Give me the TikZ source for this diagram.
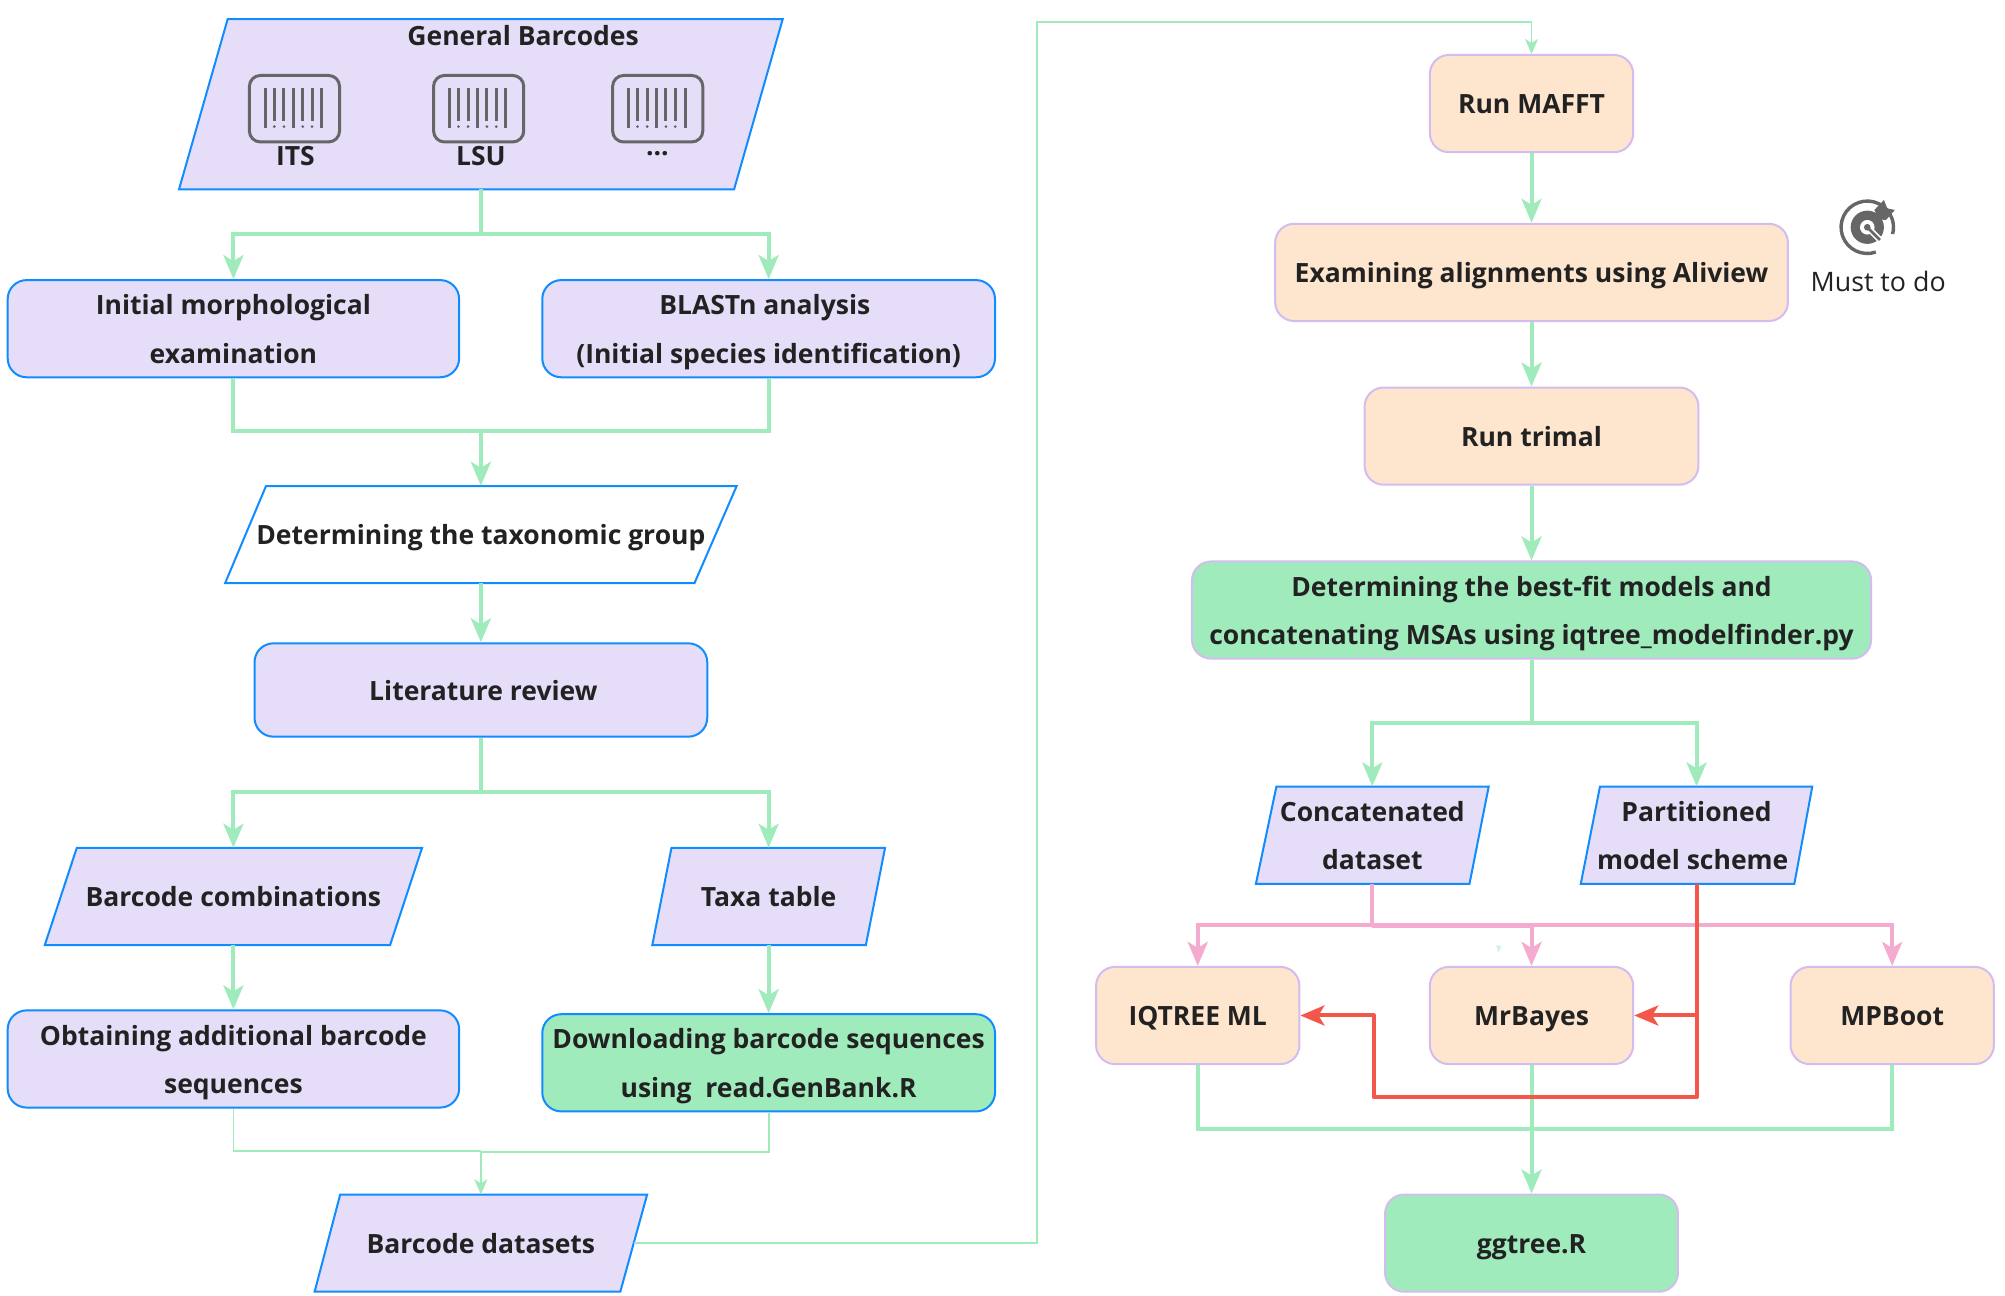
\documentclass[tikz,border=0pt]{standalone}
\usepackage{fontspec}
\setmainfont{Open Sans}
\usetikzlibrary{arrows.meta,fit}
\definecolor{lav}{HTML}{E6DEF8}
\definecolor{bluebd}{HTML}{0F8CFF}
\definecolor{greenc}{HTML}{A0EBBB}
\definecolor{orangef}{HTML}{FEE5CD}
\definecolor{purplebd}{HTML}{D3BCF0}
\definecolor{pinkc}{HTML}{F5ABCF}
\definecolor{redc}{HTML}{F2574A}
\definecolor{textc}{HTML}{222222}
\definecolor{iconc}{HTML}{666666}
\newcommand{\sv}{\vphantom{Ahgy()}}
\tikzset{
  lab/.style={font=\fontsize{26.5}{48.5}\selectfont\bfseries, text=textc, align=center, inner sep=0pt},
  boxn/.style={rectangle, rounded corners=19pt, line width=2pt, inner sep=0pt},
  lavbox/.style={boxn, draw=bluebd, fill=lav},
  orbox/.style={boxn, draw=purplebd, fill=orangef},
  grbox/.style={boxn, draw=bluebd, fill=greenc},
  grpbox/.style={boxn, draw=purplebd, fill=greenc},
  paranode/.style={rectangle, inner sep=0pt},
  parashape/.style={draw=bluebd, line width=2pt, line join=miter},
  tip/.style={-{Stealth[length=24pt,width=20pt,inset=6pt]}},
  gline/.style={draw=greenc, line width=4pt},
  gthin/.style={draw=greenc, line width=1.8pt},
  garrow/.style={gline, tip},
  gthinarrow/.style={gthin, -{Stealth[length=15pt,width=13pt,inset=4pt]}},
  parrow/.style={draw=pinkc, line width=4pt, tip},
  rarrow/.style={draw=redc, line width=4pt, line join=round, tip},
  iconbox/.style={draw=iconc, line width=3pt, rounded corners=11pt},
  iconbar/.style={draw=iconc, line width=3pt},
  txt/.style={label={[lab,yshift=-3.5pt]center:{\sv #1\sv}}},
}
\newcommand{\barcodeicon}[1]{%
  \begin{scope}[shift={(#1,59)}]
    \draw[iconbox] (0,0) rectangle (70.5,52);
    \foreach \bx in {12.4,34.5,56.6} \draw[iconbar] (\bx,9.5) -- (\bx,41);
    \foreach \bx in {19.5,27,41.7,49} {
      \draw[iconbar] (\bx,9.5) -- (\bx,36);
      \fill[iconc] (\bx,40) circle (1.2);
    }
  \end{scope}}
\begin{document}
\begin{tikzpicture}[x=1.27894pt,y=-1.27894pt]
\useasboundingbox (0,0) rectangle (1567.7,1013.3);
% parallelogram outlines
\draw[parashape,fill=lav] (178,15) -- (612,15) -- (574,148) -- (140,148) -- cycle;
\draw[parashape,fill=white] (208,380) -- (576,380) -- (543,456) -- (176,456) -- cycle;
\draw[parashape,fill=lav] (60,663) -- (330,663) -- (305,739) -- (35,739) -- cycle;
\draw[parashape,fill=lav] (525,663) -- (692,663) -- (677,739) -- (510,739) -- cycle;
\draw[parashape,fill=lav] (266,934) -- (506,934) -- (485,1010) -- (246,1010) -- cycle;
\draw[parashape,fill=lav] (998,615) -- (1164,615) -- (1149,691) -- (982,691) -- cycle;
\draw[parashape,fill=lav] (1251,615) -- (1417,615) -- (1403,691) -- (1236,691) -- cycle;
% parallelogram nodes
\node[paranode,fit={(140,15)(612,148)}] (gb) {};
\node[lab] (gbt) at (409,28) {General Barcodes};
\barcodeicon{195}\barcodeicon{339}\barcodeicon{479}
\node[lab] (its) at (231,122) {ITS};
\node[lab] (lsu) at (376,122) {LSU};
\node[lab] (more) at (514,120) {...};
\node[paranode,fit={(176,380)(576,456)},txt={Determining the taxonomic group}] (tax) {};
\node[paranode,fit={(35,663)(330,739)},txt={Barcode combinations}] (comb) {};
\node[paranode,fit={(510,663)(692,739)},txt={Taxa table}] (taxa) {};
\node[paranode,fit={(246,934)(506,1010)},txt={Barcode datasets}] (bd) {};
\node[paranode,fit={(982,615)(1164,691)},txt={Concatenated\\dataset}] (con) {};
\node[paranode,fit={(1236,615)(1417,691)},txt={Partitioned\\model scheme\rule{7.7pt}{0pt}}] (par) {};
% boxes
\node[lavbox,fit={(6,219)(359,295)},txt={Initial morphological\\examination}] (im) {};
\node[lavbox,fit={(424,219)(778,295)},txt={BLASTn analysis\rule{7.7pt}{0pt}\\(Initial species identification)}] (bl) {};
\node[lavbox,fit={(199,503)(553,576)},txt={\rule{5pt}{0pt}Literature review}] (lit) {};
\node[lavbox,fit={(6,790)(359,866)},txt={Obtaining additional barcode\\sequences}] (ob) {};
\node[grbox,fit={(424,793)(778,869)},txt={Downloading barcode sequences\\using\ \ read.GenBank.R}] (dl) {};
\node[orbox,fit={(1118,43)(1277,119)},txt={Run MAFFT}] (maf) {};
\node[orbox,fit={(997,175)(1398,251)},txt={Examining alignments using Aliview}] (ali) {};
\node[orbox,fit={(1067,303)(1328,379)},txt={Run trimal}] (tri) {};
\node[grpbox,fit={(932,439)(1463,515)},txt={Determining the best-fit models and\\concatenating MSAs using iqtree\_modelfinder.py}] (mf) {};
\node[orbox,fit={(857,756)(1016,832)},txt={IQTREE ML}] (iq) {};
\node[orbox,fit={(1118,756)(1277,832)},txt={MrBayes}] (mb) {};
\node[orbox,fit={(1400,756)(1559,832)},txt={MPBoot}] (mp) {};
\node[grpbox,fit={(1083,934)(1312,1010)},txt={ggtree.R}] (gg) {};
% junctions
\coordinate (j1) at (376,183);
\coordinate (j2) at (376,337);
\coordinate (j3) at (376,619);
\coordinate (j4a) at (376,900);
\coordinate (j4b) at (376,901);
\coordinate (bdr) at (496,972);
\coordinate (w1) at (811,972);
\coordinate (w2) at (811,17);
\coordinate (j5) at (1197.5,565);
\coordinate (j6) at (1073,723);
\coordinate (j6b) at (1073,724);
\coordinate (r1) at (1326.5,794);
\coordinate (r2) at (1326.5,858);
\coordinate (r3) at (1074,858);
\coordinate (r4) at (1074,794);
\coordinate (j7) at (1197.5,883);
% green connectors
\draw[gline] (gb.south) -- (j1);
\draw[garrow] (j1) -| (im.north);
\draw[garrow] (j1) -| (bl.north);
\draw[gline] (im.south) |- (j2);
\draw[gline] (bl.south) |- (j2);
\draw[garrow] (j2) -- (tax.north);
\draw[garrow] (tax.south) -- (lit.north);
\draw[gline] (lit.south) -- (j3);
\draw[garrow] (j3) -| (comb.north);
\draw[garrow] (j3) -| (taxa.north);
\draw[garrow] (comb.south) -- (ob.north);
\draw[garrow] (taxa.south) -- (dl.north);
\draw[gthin] (ob.south) |- (j4a);
\draw[gthin] (dl.south) |- (j4b);
\draw[gthinarrow] (j4a) -- (bd.north);
\draw[gthinarrow] (bdr) -- (w1) -- (w2) -| (maf.north);
\draw[garrow] (maf.south) -- (ali.north);
\draw[garrow] (ali.south) -- (tri.north);
\draw[garrow] (tri.south) -- (mf.north);
\draw[gline] (mf.south) -- (j5);
\draw[garrow] (j5) -| (con.north);
\draw[garrow] (j5) -| (par.north);
\draw[gline] (iq.south) |- (j7);
\draw[gline] (mp.south) |- (j7);
\draw[garrow] (mb.south) -- (gg.north);
% pink connectors
\draw[draw=pinkc,line width=4pt] (con.south) -- (j6);
\draw[parrow] (j6) -| (iq.north);
\draw[parrow] (j6b) -| (mb.north);
\draw[parrow] (j6) -| (mp.north);
% red connectors
\draw[rarrow] (par.south) -- (r2) -- (r3) -- (r4) -- (iq.east);
\draw[rarrow] (r1) -- (mb.east);
% stray mark
\fill[greenc!50] (1170,739) -- (1174,740) -- (1171.5,745) -- cycle;
% legend icon
\coordinate (tc) at (1460,177.7);
\draw[iconc,line width=3.4pt] (tc) ++(71:20.5) arc[start angle=71,end angle=375,radius=20.5];
\fill[iconc] (tc) circle (13);
\fill[white] (tc) circle (5.7);
\draw[white,line width=6pt] (tc) -- ++(45:17);
\draw[iconc,line width=2.6pt] (tc) -- ++(45:14);
\fill[iconc] (tc) circle (2.6);
\fill[iconc] (1465.5,164.2) -- (1473,156.4) -- (1475.6,162.9) -- (1481.6,164.2) -- (1474.6,172) -- (1469,171.5) -- cycle;
\node[font=\fontsize{26.8}{30}\selectfont, text=textc, inner sep=0pt] (must) at (1468.5,220) {Must to do};
\end{tikzpicture}
\end{document}
